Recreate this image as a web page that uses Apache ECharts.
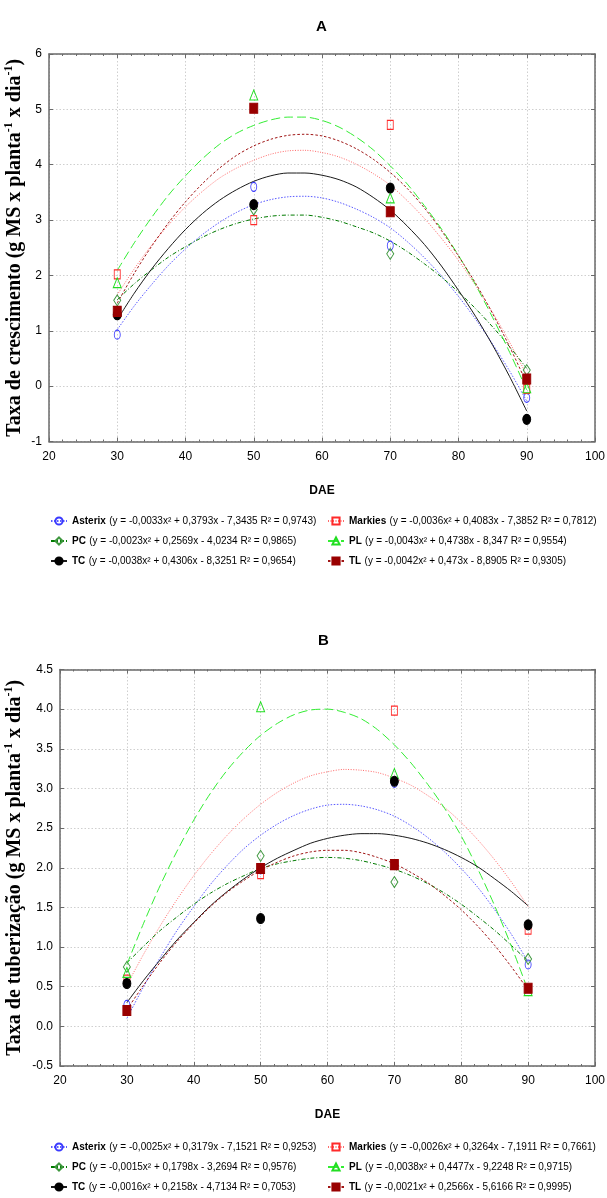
<!DOCTYPE html>
<html><head><meta charset="utf-8">
<script src="https://cdn.jsdelivr.net/npm/echarts@6/dist/echarts.min.js"></script>
<style>html,body{margin:0;padding:0;background:#fff}#c{width:607px;height:1198px}</style>
</head><body><div id="c"></div>
<script>
// ---------- data ----------
const cultivars = ['Asterix', 'Markies', 'PC', 'PL', 'TC', 'TL'];
const dae = [30, 50, 70, 90];
const fitX = [30, 32.5, 35, 37.5, 40, 42.5, 45, 47.5, 50, 52.5, 55, 57.5, 60,
              62.5, 65, 67.5, 70, 72.5, 75, 77.5, 80, 82.5, 85, 87.5, 90];
const xTicks = [20, 30, 40, 50, 60, 70, 80, 90, 100];
const yTicksA = [-1, 0, 1, 2, 3, 4, 5, 6];
const yTicksB = [-0.5, 0, 0.5, 1, 1.5, 2, 2.5, 3, 3.5, 4, 4.5];

// Chart A: observed points (30, 50, 70, 90 DAE)
const obsA_Asterix = [0.93, 3.60, 2.54, -0.21];
const obsA_Markies = [2.02, 3.00, 4.72, -0.05];
const obsA_PC      = [1.55, 3.19, 2.39, 0.29];
const obsA_PL      = [1.87, 5.26, 3.40, -0.03];
const obsA_TC      = [1.29, 3.28, 3.58, -0.60];
const obsA_TL      = [1.35, 5.02, 3.15, 0.13];
// Chart A: fitted curves read at fitX
const fitA_Asterix = [1.02,1.45,1.83,2.18,2.48,2.74,2.96,3.14,3.28,3.37,3.42,3.43,3.40,3.32,3.20,3.05,2.86,2.61,2.32,1.99,1.62,1.21,0.76,0.27,-0.27];
const fitA_Markies = [1.65,2.12,2.54,2.91,3.24,3.52,3.76,3.94,4.08,4.19,4.25,4.26,4.22,4.14,4.01,3.84,3.63,3.35,3.03,2.67,2.27,1.82,1.33,0.79,0.20];
const fitA_PC      = [1.56,1.85,2.10,2.33,2.52,2.69,2.83,2.94,3.02,3.07,3.09,3.09,3.05,2.98,2.88,2.77,2.62,2.43,2.21,1.97,1.70,1.40,1.07,0.71,0.32];
const fitA_PL      = [2.09,2.59,3.04,3.45,3.80,4.11,4.37,4.57,4.71,4.81,4.86,4.86,4.80,4.68,4.50,4.27,3.98,3.65,3.26,2.84,2.36,1.83,1.24,0.61,-0.07];
const fitA_TC      = [1.20,1.68,2.11,2.49,2.83,3.12,3.36,3.55,3.70,3.80,3.85,3.85,3.81,3.73,3.60,3.41,3.18,2.89,2.56,2.17,1.73,1.26,0.74,0.17,-0.45];
const fitA_TL      = [1.50,2.04,2.52,2.95,3.33,3.66,3.94,4.17,4.34,4.46,4.53,4.55,4.52,4.43,4.29,4.10,3.86,3.57,3.22,2.81,2.35,1.86,1.31,0.71,0.05];

// Chart B: observed points
const obsB_Asterix = [0.27, 1.98, 3.07, 0.78];
const obsB_Markies = [0.59, 1.92, 3.98, 1.22];
const obsB_PC      = [0.75, 2.15, 1.82, 0.85];
const obsB_PL      = [0.68, 4.03, 3.19, 0.45];
const obsB_TC      = [0.54, 1.36, 3.09, 1.28];
const obsB_TL      = [0.20, 1.99, 2.04, 0.48];
// Chart B: fitted curves read at fitX
const fitB_Asterix = [0.10,0.50,0.87,1.21,1.51,1.79,2.03,2.24,2.41,2.55,2.66,2.74,2.79,2.80,2.78,2.73,2.65,2.53,2.38,2.20,1.99,1.75,1.47,1.16,0.81];
const fitB_Markies = [0.52,0.91,1.27,1.60,1.90,2.17,2.41,2.62,2.80,2.95,3.07,3.16,3.21,3.24,3.23,3.20,3.13,3.04,2.91,2.76,2.57,2.35,2.10,1.82,1.51];
const fitB_PC      = [0.80,1.01,1.21,1.38,1.54,1.68,1.80,1.90,1.99,2.05,2.09,2.12,2.13,2.12,2.09,2.04,1.98,1.90,1.80,1.68,1.54,1.38,1.21,1.02,0.82];
const fitB_PL      = [0.78,1.30,1.78,2.21,2.60,2.94,3.23,3.47,3.67,3.82,3.93,3.99,4.00,3.96,3.88,3.74,3.55,3.32,3.05,2.75,2.40,1.98,1.52,1.01,0.45];
const fitB_TC      = [0.30,0.58,0.84,1.09,1.31,1.52,1.70,1.86,2.00,2.12,2.22,2.31,2.37,2.41,2.43,2.43,2.41,2.37,2.31,2.23,2.13,2.01,1.86,1.70,1.52];
const fitB_TL      = [0.21,0.52,0.81,1.07,1.30,1.51,1.69,1.84,1.97,2.07,2.15,2.20,2.22,2.22,2.19,2.13,2.05,1.94,1.81,1.65,1.47,1.26,1.02,0.75,0.46];

const eqA = [
  '(y = -0,0033x² + 0,3793x - 7,3435 R² = 0,9743)',
  '(y = -0,0036x² + 0,4083x - 7,3852 R² = 0,7812)',
  '(y = -0,0023x² + 0,2569x - 4,0234 R² = 0,9865)',
  '(y = -0,0043x² + 0,4738x - 8,347 R² = 0,9554)',
  '(y = -0,0038x² + 0,4306x - 8,3251 R² = 0,9654)',
  '(y = -0,0042x² + 0,473x - 8,8905 R² = 0,9305)'
];
const eqB = [
  '(y = -0,0025x² + 0,3179x - 7,1521 R² = 0,9253)',
  '(y = -0,0026x² + 0,3264x - 7,1911 R² = 0,7661)',
  '(y = -0,0015x² + 0,1798x - 3,2694 R² = 0,9576)',
  '(y = -0,0038x² + 0,4477x - 9,2248 R² = 0,9715)',
  '(y = -0,0016x² + 0,2158x - 4,7134 R² = 0,7053)',
  '(y = -0,0021x² + 0,2566x - 5,6166 R² = 0,9995)'
];
const titleA = 'A', titleB = 'B', xName = 'DAE';
const yNameA = ['Taxa de crescimento (g MS x planta', '-1', ' x dia', '-1', ')'];
const yNameB = ['Taxa de tuberização (g MS x planta', '-1', ' x dia', '-1', ')'];

// ---------- styles ----------
const styles = {
  Asterix: {symbol: 'circle',  size: [6, 9],  mark: '#3a3aff', fill: false, line: '#5a5aff', dash: [1.5, 1.5]},
  Markies: {symbol: 'rect',    size: [6, 9],  mark: '#ff2a2a', fill: false, line: '#ff6a6a', dash: [1, 1.5]},
  PC:      {symbol: 'diamond', size: [7, 11], mark: '#3d973d', fill: false, line: '#007a00', dash: [4, 2, 1, 2]},
  PL:      {symbol: 'triangle',size: [8, 10], mark: '#22dd22', fill: false, line: '#33ee33', dash: [9, 4]},
  TC:      {symbol: 'circle',  size: [8, 10], mark: '#000000', fill: true,  line: '#1a1a1a', dash: 'solid'},
  TL:      {symbol: 'rect',    size: [8, 10], mark: '#990000', fill: true,  line: '#a01515', dash: [2.5, 2]}
};
const obsA = {Asterix: obsA_Asterix, Markies: obsA_Markies, PC: obsA_PC, PL: obsA_PL, TC: obsA_TC, TL: obsA_TL};
const fitA = {Asterix: fitA_Asterix, Markies: fitA_Markies, PC: fitA_PC, PL: fitA_PL, TC: fitA_TC, TL: fitA_TL};
const obsB = {Asterix: obsB_Asterix, Markies: obsB_Markies, PC: obsB_PC, PL: obsB_PL, TC: obsB_TC, TL: obsB_TL};
const fitB = {Asterix: fitB_Asterix, Markies: fitB_Markies, PC: fitB_PC, PL: fitB_PL, TC: fitB_TC, TL: fitB_TL};

const SANS = 'Liberation Sans, Arial, sans-serif';
const SERIF = 'Liberation Serif, Times New Roman, serif';
const AXC = '#6a6a6a';

function xAxes(gridIndex) {
  const base = {gridIndex, type: 'value', min: xTicks[0], max: xTicks[xTicks.length - 1], interval: 10,
    axisLine: {show: true, onZero: false, lineStyle: {color: AXC, width: 1.5}},
    axisTick: {show: true, inside: true, length: 4, lineStyle: {color: AXC}},
    minorTick: {show: true, splitNumber: 5, length: 2, lineStyle: {color: AXC}},
    splitLine: {show: false}};
  return [
    Object.assign({}, base, {position: 'bottom',
      name: xName, nameLocation: 'middle', nameGap: 43,
      nameTextStyle: {fontFamily: SANS, fontWeight: 'bold', fontSize: 12, color: '#000'},
      axisLabel: {fontFamily: SANS, fontSize: 12, color: '#000', margin: 9},
      splitLine: {show: true, lineStyle: {color: '#cfcfcf', type: [1.5, 2]}}}),
    Object.assign({}, base, {position: 'top', axisLabel: {show: false}})
  ];
}
function yAxes(gridIndex, ticks, nameParts, gap, dec) {
  const base = {gridIndex, type: 'value', min: ticks[0], max: ticks[ticks.length - 1],
    interval: ticks[1] - ticks[0],
    axisLine: {show: true, onZero: false, lineStyle: {color: AXC, width: 1.5}},
    axisTick: {show: true, inside: true, length: 4, lineStyle: {color: AXC}},
    splitLine: {show: false}};
  const rich = {
    t: {fontFamily: SERIF, fontWeight: 'bold', fontSize: 20, color: '#000', lineHeight: 24},
    s: {fontFamily: SERIF, fontWeight: 'bold', fontSize: 12, color: '#000', lineHeight: 14, verticalAlign: 'top'}
  };
  const nm = '{t|' + nameParts[0] + '}{s|' + nameParts[1] + '}{t|' + nameParts[2] + '}{s|' + nameParts[3] + '}{t|' + nameParts[4] + '}';
  return [
    Object.assign({}, base, {position: 'left', name: nm, nameLocation: 'middle', nameGap: gap, nameRotate: 90,
      nameMoveOverlap: false,
      nameTextStyle: {rich},
      axisLabel: {fontFamily: SANS, fontSize: 12, color: '#000', margin: 7,
        formatter: v => dec ? v.toFixed(1) : String(v)},
      splitLine: {show: true, lineStyle: {color: '#cfcfcf', type: [1.5, 2]}}}),
    Object.assign({}, base, {position: 'right', axisLabel: {show: false}})
  ];
}

const series = [];
const legends = [];
function addChart(tag, obs, fit, xi, yi, eqs, legTop) {
  cultivars.forEach((c, i) => {
    const st = styles[c];
    series.push({
      name: tag + ':' + c, type: 'line', xAxisIndex: xi, yAxisIndex: yi,
      data: fitX.map((x, k) => [x, fit[c][k]]), smooth: 0.3, showSymbol: false,
      symbol: st.symbol, symbolSize: st.size,
      itemStyle: {color: st.fill ? st.mark : 'rgba(255,255,255,0)', borderColor: st.mark, borderWidth: 1},
      lineStyle: {color: st.line, width: 1, type: st.dash}, z: 2, silent: true
    });
    series.push({
      name: tag + ':' + c + ':pts', type: 'scatter', xAxisIndex: xi, yAxisIndex: yi,
      data: dae.map((x, k) => [x, obs[c][k]]), symbol: st.symbol, symbolSize: st.size,
      itemStyle: {color: st.fill ? st.mark : 'rgba(255,255,255,0)', borderColor: st.mark, borderWidth: 1, opacity: 1},
      z: 3 + i * 0.1, silent: true
    });
    const col = i % 2, row = Math.floor(i / 2);
    legends.push({
      data: [tag + ':' + c], left: col === 0 ? 50 : 327, top: legTop + row * 20,
      itemWidth: 16, itemHeight: 9, selectedMode: false, padding: 0,
      formatter: () => '{b|' + c + '} {n|' + eqs[i] + '}',
      textStyle: {lineHeight: 14, rich: {
        b: {fontFamily: SANS, fontWeight: 'bold', fontSize: 10, color: '#000'},
        n: {fontFamily: SANS, fontSize: 10, color: '#000'}}}
    });
  });
}
addChart('A', obsA, fitA, 0, 0, eqA, 514);
addChart('B', obsB, fitB, 2, 2, eqB, 1140);

const chart = echarts.init(document.getElementById('c'), null, {renderer: 'canvas'});
chart.setOption({
  backgroundColor: '#fff',
  animation: false,
  title: [
    {text: titleA, left: 311, top: 14, textStyle: {fontFamily: SANS, fontWeight: 'bold', fontSize: 15, color: '#000'}},
    {text: titleB, left: 313, top: 628, textStyle: {fontFamily: SANS, fontWeight: 'bold', fontSize: 15, color: '#000'}}
  ],
  grid: [
    {left: 49, top: 54, width: 546, height: 387.5, containLabel: false, outerBoundsMode: 'none'},
    {left: 60, top: 669.5, width: 535, height: 396.5, containLabel: false, outerBoundsMode: 'none'}
  ],
  xAxis: [...xAxes(0), ...xAxes(1)],
  yAxis: [...yAxes(0, yTicksA, yNameA, 22, false), ...yAxes(1, yTicksB, yNameB, 33, true)],
  legend: legends,
  series
});
</script></body></html>
